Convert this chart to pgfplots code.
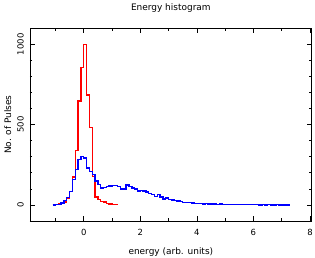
\documentclass[border=0pt]{standalone}
\usepackage{fontspec}
\setmainfont{DejaVu Sans}
\usepackage{pgfplots}
\pgfplotsset{compat=1.18}
\begin{document}
\begin{tikzpicture}
\begin{axis}[
  scale only axis,
  width=281.7bp, height=192.7bp,
  xmin=-1.9, xmax=8.06,
  ymin=-100, ymax=1100,
  xtick={0,2,4,6,8},
  minor xtick={-1,1,3,5,7},
  ytick={0,500,1000},
  minor ytick={-100,100,200,300,400,600,700,800,900},
  tick align=inside,
  major tick length=5bp,
  minor tick length=2.5bp,
  every tick/.style={black, line width=0.7bp},
  axis line style={line width=0.9bp},
  /pgf/number format/assume math mode=true,
  /pgf/number format/1000 sep={},
  ticklabel style={font=\fontsize{8.5}{9}\selectfont},
  yticklabel style={xshift=-6bp, rotate=90, anchor=south, inner sep=0pt},
  xticklabel style={anchor=base, inner sep=0pt, yshift=-14bp},
  title={Energy histogram},
  title style={at={(axis description cs:0.5,1)}, anchor=base, yshift=12bp, inner sep=0pt, font=\fontsize{9}{10}\selectfont},
  xlabel={energy (arb. units)},
  xlabel style={at={(axis description cs:0.5,0)}, anchor=base, yshift=-33bp, inner sep=0pt, font=\fontsize{9}{10}\selectfont},
  ylabel={No. of Pulses},
  ylabel style={at={(axis description cs:-0.0674,0.5)}, anchor=base, inner sep=0pt, font=\fontsize{9}{10}\selectfont},
  clip=false,
]
\addplot[const plot mark left, color={rgb,255:red,255;green,0;blue,0}, line width=1.4bp] coordinates {
(-1.1,1) (-1.0,3) (-0.9,6) (-0.8,9) (-0.7,19) (-0.6,44) (-0.5,85) (-0.4,175)
(-0.3,339) (-0.2,647) (-0.1,856) (0.0,1000) (0.1,685) (0.2,481) (0.3,178)
(0.4,50) (0.5,33) (0.6,22) (0.7,18) (0.8,9) (0.9,7) (1.0,2) (1.1,1) (1.2,1)
};
\addplot[const plot mark left, color={rgb,255:red,0;green,0;blue,255}, line width=1.4bp] coordinates {
(-1.1,0) (-1.0,2) (-0.9,3) (-0.8,12) (-0.7,27) (-0.6,48) (-0.5,85) (-0.4,158)
(-0.3,220) (-0.2,283) (-0.1,300) (0.0,293) (0.1,231) (0.2,210) (0.3,190)
(0.4,148) (0.5,127) (0.6,106) (0.7,110) (0.8,116) (0.9,118) (1.0,120)
(1.1,120) (1.2,116) (1.3,100) (1.4,100) (1.5,123) (1.6,113) (1.7,105)
(1.8,100) (1.9,88) (2.0,90) (2.1,88) (2.2,80) (2.3,72) (2.4,64) (2.5,54)
(2.6,64) (2.7,50) (2.8,37) (2.9,44) (3.0,33) (3.1,30) (3.2,27) (3.3,24)
(3.4,21) (3.5,17) (3.6,16) (3.7,15) (3.8,12) (3.9,10) (4.0,8) (4.1,8)
(4.2,6) (4.3,8) (4.4,7) (4.5,5) (4.6,5) (4.7,4) (4.8,5) (4.9,3) (5.0,4)
(5.1,2) (5.2,2) (5.3,2) (5.4,1) (5.5,2) (5.6,1) (5.7,1) (5.8,1) (5.9,1)
(6.0,1) (6.1,1) (6.2,0) (6.3,1) (6.4,0) (6.5,1) (6.6,0) (6.7,0) (6.8,1)
(6.9,0) (7.0,0) (7.1,0) (7.2,0) (7.3,0)
};
\end{axis}
\path (current axis.south west) ++(-30bp,-37bp) rectangle ([xshift=3.3bp,yshift=28.3bp]current axis.north east);
\end{tikzpicture}
\end{document}
